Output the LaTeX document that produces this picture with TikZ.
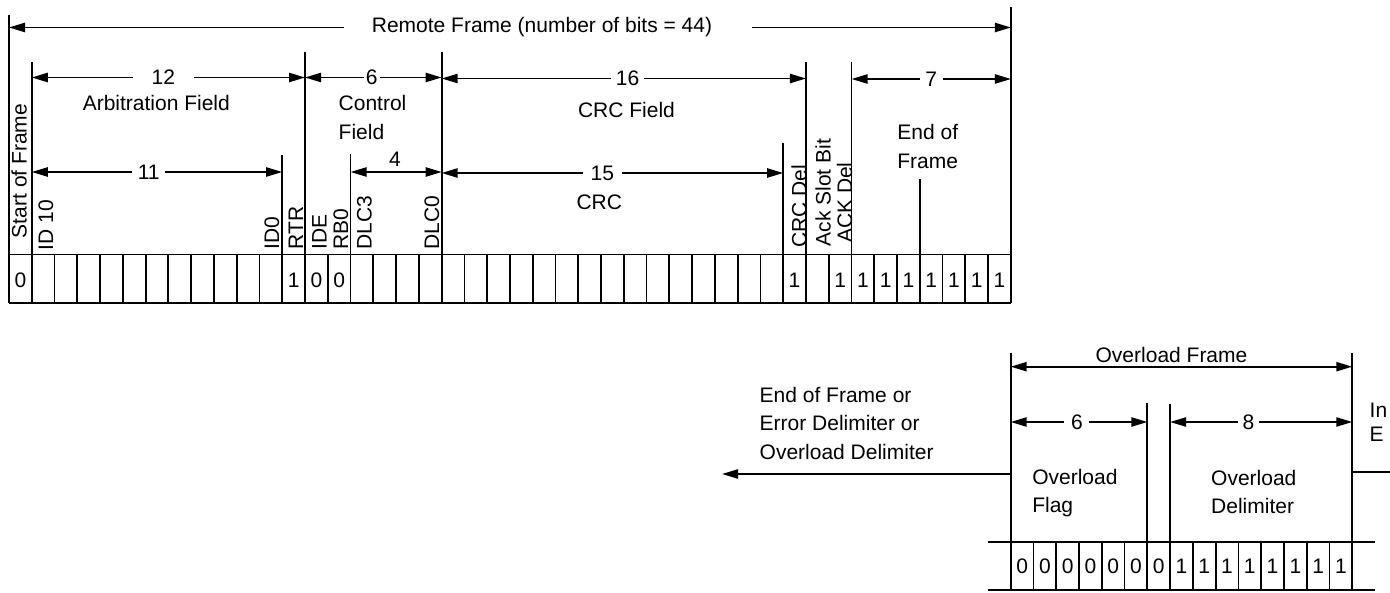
\documentclass[tikz,border=0pt]{standalone}
\usepackage{fontspec}
\setmainfont{Liberation Sans}
\usetikzlibrary{arrows.meta}

\newcommand{\cellw}{22.77}

\tikzset{
  rule/.style  ={line width=0.9pt},
  ar/.style    ={-{Triangle[length=8pt,width=4.6pt]}, line width=0.9pt},
  arb/.style   ={{Triangle[length=8pt,width=4.6pt]}-{Triangle[length=8pt,width=4.6pt]},
                 line width=0.9pt},
  lbl/.style   ={font=\fontsize{10.5}{14.2}\selectfont, inner sep=0pt},
  num/.style   ={lbl, inner xsep=3pt},
  vlbl/.style  ={lbl, rotate=90, anchor=base west},
  bit/.style   ={lbl}
}

\begin{document}
\begin{tikzpicture}[x=0.5pt, y=-0.5pt]
\useasboundingbox (0,0) rectangle (1390,593);

% remote frame, 44 bit cells
\foreach \i in {0,...,44}
  \coordinate (t\i) at ({9+\i*\cellw},254.5);
\draw[rule] (t0) -- (t44);
\draw[rule] (t0 |- 0,302.7) -- (t44 |- 0,302.7);
\foreach \i in {0,...,44}
  \draw[rule] (t\i) -- ++(0,48.2);
\foreach \i/\h in {0/15, 1/61.7, 12/155, 13/51.7, 15/154, 19/51.7,
                   34/143.3, 35/61.7, 37/61.7, 40/179.3, 44/6.7}
  \draw[rule] (t\i) -- (t\i |- 0,\h);

\foreach \cl/\b in {0/0, 12/1, 13/0, 14/0, 34/1, 36/1, 37/1, 38/1,
                    39/1, 40/1, 41/1, 42/1, 43/1}
  \node[bit] (b\cl) at ({9+(\cl+0.5)*\cellw},280) {\b};

\foreach \x/\y/\txt [count=\k] in {26.5/238.5/Start of Frame, 53/250.5/ID 10,
    279/250/ID0, 303/250/RTR, 326.5/250/IDE, 348/250/RB0, 371.5/250/DLC3,
    439/250/DLC0, 806.5/248.3/CRC Del, 830.5/246.7/Ack Slot Bit,
    852/243.3/ACK Del}
  \node[vlbl] (side\k) at (\x,\y) {\txt};

\node[lbl] (remote) at (542,27.5) {Remote Frame (number of bits = 44)};
\draw[ar] ([xshift=-13.5pt]remote.west) -- (t0 |- remote.west);
\draw[ar] ([xshift=19.5pt]remote.east) -- (t44 |- remote.east);

\node[num, inner xsep=9.2pt] (n12) at (163.3,77.5) {12};
\draw[ar] (n12.west) -- (t1 |- n12.west);
\draw[ar] (n12.east) -- (t13 |- n12.east);
\node[lbl] (arbf) at (156.3,102.7) {Arbitration Field};

\node[num, inner xsep=0.8pt] (n6) at (371.7,77.5) {6};
\draw[ar] (n6.west) -- (t13 |- n6.west);
\draw[ar] (n6.east) -- (t19 |- n6.east);
\node[lbl, align=left, anchor=west] (ctrlf) at (338.3,117.5) {Control\\Field};

\node[num, inner xsep=2.4pt] (n16) at (627.6,78.5) {16};
\draw[ar] (n16.west) -- (t19 |- n16.west);
\draw[ar] (n16.east) -- (t35 |- n16.east);
\node[lbl] (crcf) at (626.5,110) {CRC Field};

\node[num, inner xsep=2.7pt] (n7) at (931.2,79) {7};
\draw[ar] (n7.west) -- (t37 |- n7.west);
\draw[ar] (n7.east) -- (t44 |- n7.east);
\node[lbl, align=left, anchor=west] (eof) at (897,146.3) {End of\\Frame};

\node[num, inner xsep=2.6pt] (n11) at (148.7,172) {11};
\draw[ar] (n11.west) -- (t1 |- n11.west);
\draw[ar] (n11.east) -- (t12 |- n11.east);

\node[lbl] (n4) at (395,159.3) {4};
\draw[arb] (t15 |- 0,172) -- (t19 |- 0,172);

\node[num, inner xsep=3.6pt] (n15) at (602.3,173) {15};
\draw[ar] (n15.west) -- (t19 |- n15.west);
\draw[ar] (n15.east) -- (t34 |- n15.east);
\node[lbl] (crc) at (599.3,202.7) {CRC};

% overload frame
\foreach \i in {0,...,15}
  \coordinate (o\i) at ({1010.7+\i*\cellw},541.7);
\draw[rule] (987.9,541.7) -- (1374.5,541.7);
\draw[rule] (987.9,590) -- (1374.5,590);
\foreach \i in {0,...,15}
  \draw[rule] (o\i) -- ++(0,48.3);
\foreach \i/\h in {0/353.3, 6/402.7, 7/404, 15/353.3}
  \draw[rule] (o\i) -- (o\i |- 0,\h);
\foreach \cl in {0,...,6}
  \node[bit] (ob\cl) at ({1010.7+(\cl+0.5)*\cellw},566.7) {0};
\foreach \cl in {7,...,14}
  \node[bit] (ob\cl) at ({1010.7+(\cl+0.5)*\cellw},566.7) {1};

\node[lbl] (ovf) at (1171.5,355) {Overload Frame};
\draw[arb] (o0 |- 0,366.7) -- (o15 |- 0,366.7);

\node[num, inner xsep=3.1pt] (on6) at (1076.9,422) {6};
\draw[ar] (on6.west) -- (o0 |- on6.west);
\draw[ar] (on6.east) -- (o6 |- on6.east);
\node[num, inner xsep=2pt] (on8) at (1248.4,422) {8};
\draw[ar] (on8.west) -- (o7 |- on8.west);
\draw[ar] (on8.east) -- (o15 |- on8.east);

\node[lbl, align=left, anchor=west] (oflag) at (1031.9,493) {Overload\\Flag};
\node[lbl, align=left, anchor=west] (odel) at (1210.8,491.7) {Overload\\Delimiter};

\node[lbl, align=left, anchor=west] (prev) at (759.3,423.3)
  {End of Frame or\\Error Delimiter or\\Overload Delimiter};
\coordinate (prevend) at (722,474);
\draw[ar] (o0 |- prevend) -- (prevend);

\coordinate (nextend) at (1390,472);
\draw[rule] (o15 |- nextend) -- (nextend);
\node[lbl, align=left, anchor=west] (next) at (1369.3,422) {In\\[-2.2pt]E};
\end{tikzpicture}
\end{document}
